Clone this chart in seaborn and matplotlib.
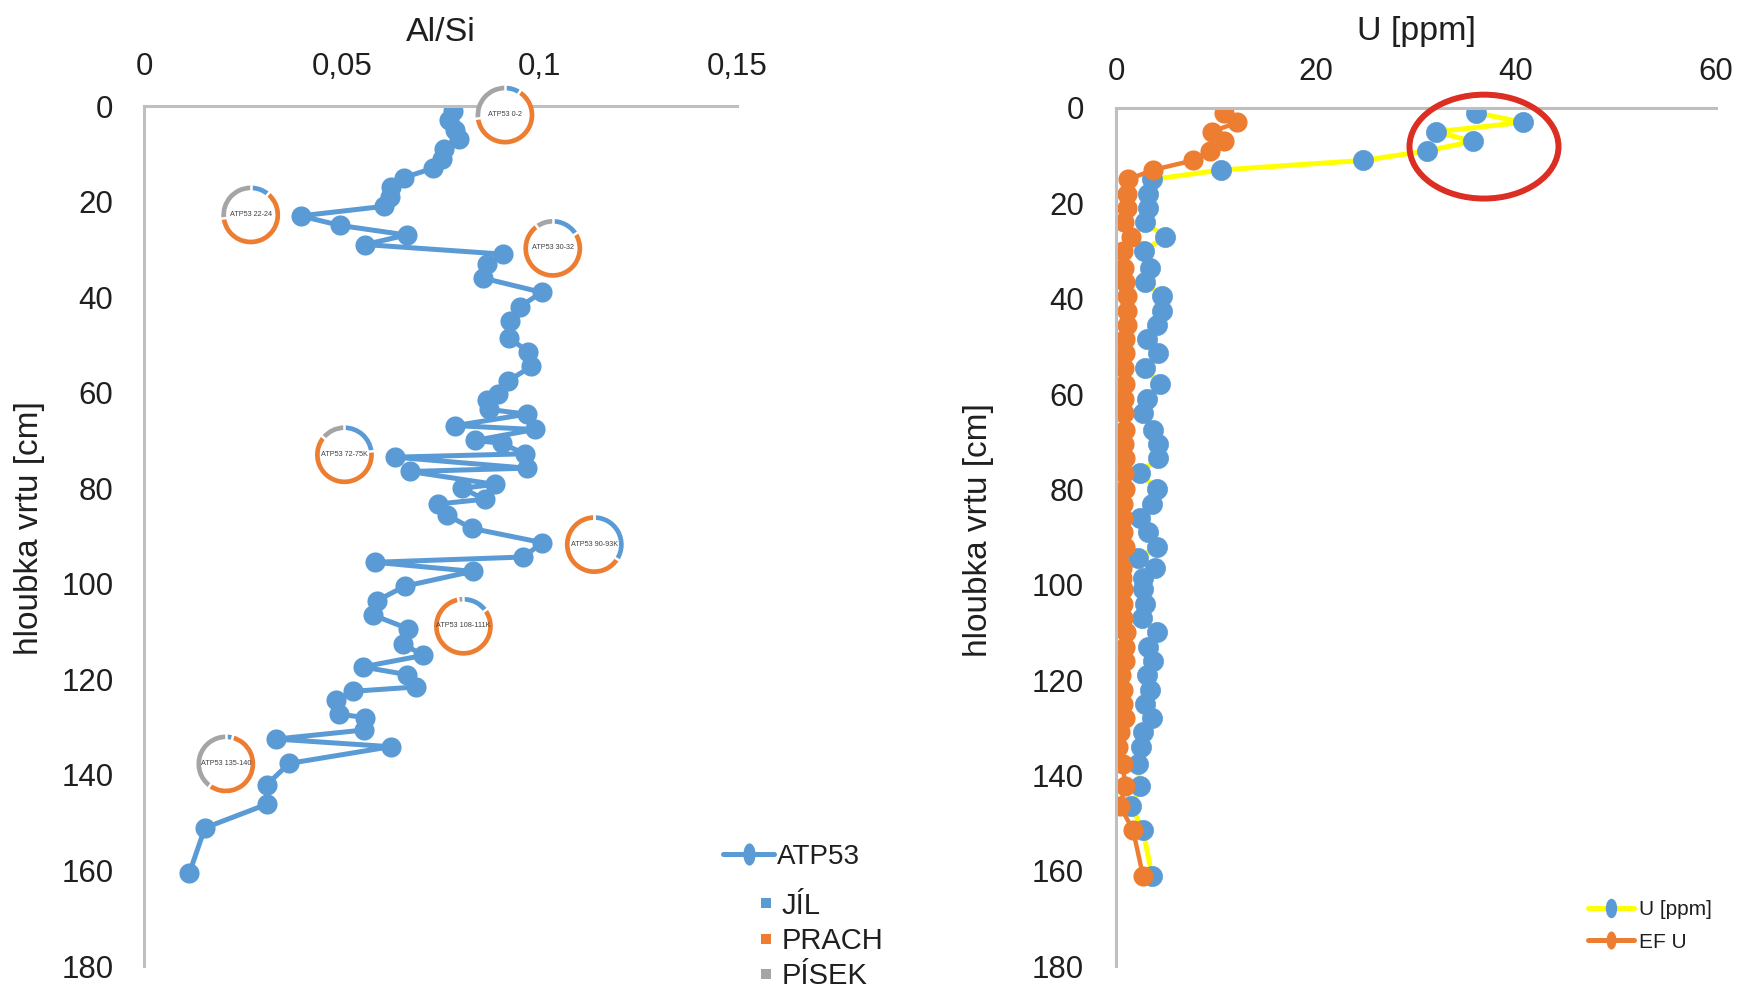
import numpy as np
import matplotlib
matplotlib.use("Agg")
import matplotlib.pyplot as plt
from matplotlib import font_manager
from matplotlib.lines import Line2D
from matplotlib.patches import Ellipse, Circle
from matplotlib.path import Path
from matplotlib.transforms import Affine2D
import pandas as pd
import seaborn as sns

# ---------------- data ----------------
# Al/Si profile of core ATP53 (depth in cm)
left_depth = [1, 3, 5, 7, 9, 11, 13, 15, 17, 19, 21, 23, 25, 27, 29, 31, 33, 36,
              39, 42, 45, 48.5, 51.5, 54.5, 57.5, 60.3, 61.5, 63.5, 64.5, 66.9,
              67.7, 70.0, 70.6, 72.8, 73.5, 75.8, 76.5, 79.2, 80.0, 82.3, 83.3,
              85.6, 88.4, 91.4, 94.4, 95.5, 97.4, 100.5, 103.5, 106.5, 109.4,
              112.5, 115.0, 117.4, 119.0, 121.6, 122.5, 124.3, 127.3, 128.0,
              130.6, 132.5, 134.1, 137.6, 142.1, 146.1, 151.1, 160.5]
al_si = [0.0781, 0.0772, 0.0787, 0.0797, 0.0760, 0.0755, 0.0732, 0.0657, 0.0626,
         0.0622, 0.0607, 0.0396, 0.0496, 0.0664, 0.0559, 0.0907, 0.0867, 0.0857,
         0.1006, 0.0951, 0.0926, 0.0924, 0.0972, 0.0980, 0.0922, 0.0896, 0.0867,
         0.0873, 0.0968, 0.0787, 0.0989, 0.0837, 0.0905, 0.0963, 0.0635, 0.0968,
         0.0673, 0.0888, 0.0804, 0.0862, 0.0744, 0.0766, 0.0829, 0.1008, 0.0959,
         0.0584, 0.0831, 0.0660, 0.0590, 0.0578, 0.0668, 0.0654, 0.0706, 0.0553,
         0.0664, 0.0688, 0.0529, 0.0486, 0.0494, 0.0559, 0.0557, 0.0334, 0.0624,
         0.0367, 0.0310, 0.0312, 0.0154, 0.0115]

# Uranium profile and its enrichment factor
right_depth = [1, 3, 5, 7, 9, 11, 13, 15, 18, 21, 24, 27, 30, 33.5, 36.5, 39.5,
               42.5, 45.5, 48.5, 51.5, 54.5, 58, 61, 64, 67.5, 70.5, 73.5, 76.5,
               80, 83, 86, 89, 92, 94.5, 96.5, 98.5, 101, 104, 107, 110, 113, 116,
               119, 122, 125, 128, 131, 134, 137.7, 142.3, 146.5, 151.4, 161.1]
u_ppm = [36.0, 40.7, 32.0, 35.7, 31.1, 24.7, 10.5, 3.6, 3.2, 3.2, 2.9, 4.9, 2.8,
         3.4, 2.9, 4.6, 4.6, 4.1, 3.1, 4.2, 2.9, 4.4, 3.1, 2.7, 3.7, 4.2, 4.2,
         2.4, 4.1, 3.6, 2.4, 3.2, 4.1, 2.2, 3.9, 2.7, 2.7, 2.9, 2.6, 4.1, 3.2,
         3.7, 3.1, 3.4, 2.9, 3.6, 2.7, 2.5, 2.2, 2.4, 1.5, 2.7, 3.6]
ef_u = [10.8, 12.1, 9.6, 10.8, 9.4, 7.7, 3.7, 1.2, 1.1, 1.1, 0.8, 1.5, 0.7, 0.8,
        0.9, 1.1, 1.1, 1.1, 0.9, 0.9, 0.8, 0.9, 0.8, 0.8, 0.9, 0.8, 0.9, 0.8,
        0.9, 0.7, 0.7, 0.7, 0.9, 0.2, 0.6, 0.6, 0.7, 0.7, 0.7, 1.0, 0.9, 0.9,
        0.5, 0.7, 0.7, 0.9, 0.4, 0.2, 0.7, 0.9, 0.4, 1.7, 2.7]

# Grain-size composition of selected samples (clay / silt / sand)
sample_labels = ["ATP53 0-2", "ATP53 22-24", "ATP53 30-32", "ATP53 72-75K",
                 "ATP53 90-93K", "ATP53 108-111K", "ATP53 135-140"]
sample_pos_x = [0.0913, 0.0270, 0.1034, 0.0507, 0.1139, 0.0808, 0.0207]
sample_pos_depth = [1.9, 22.8, 29.8, 73.0, 91.8, 108.9, 137.7]
jil = [0.09, 0.11, 0.16, 0.23, 0.34, 0.15, 0.04]
prach = [0.64, 0.62, 0.74, 0.63, 0.66, 0.82, 0.56]
pisek = [0.27, 0.27, 0.10, 0.14, 0.00, 0.03, 0.40]

al_si_ticks = [0, 0.05, 0.1, 0.15]
al_si_ticklabels = ["0", "0,05", "0,1", "0,15"]
u_ticks = [0, 20, 40, 60]
depth_ticks = [0, 20, 40, 60, 80, 100, 120, 140, 160, 180]

# ---------------- style ----------------
BLUE = "#5b9bd5"
ORANGE = "#ed7d31"
GRAY = "#a5a5a5"
YELLOW = "#ffff00"
RED = "#dc2e22"
SPINE = "#bfbfbf"
TEXT = "#1f1f1f"

sns.set_style("white")
installed = {f.name for f in font_manager.fontManager.ttflist}
base_font = "Liberation Sans" if "Liberation Sans" in installed else "DejaVu Sans"
narrow_font = "Liberation Sans Narrow" if "Liberation Sans Narrow" in installed else base_font
plt.rcParams["font.family"] = [base_font, "DejaVu Sans"]

# tall oval used as the legend marker
oval = Path.unit_circle().transformed(Affine2D().scale(0.55, 1.0))

W, H = 1762, 996
fig = plt.figure(figsize=(W / 100, H / 100), dpi=100)
fig.patch.set_facecolor("white")


def px_axes(x0, y0, x1, y1):
    return fig.add_axes([x0 / W, 1 - y1 / H, (x1 - x0) / W, (y1 - y0) / H])


def style_axes(ax, xlim, xticks, xticklabels, xlabel, xpad, ypad, labelpad, ylab_x, ylab_y):
    ax.set_xlim(*xlim)
    ax.set_ylim(180, 0)
    ax.xaxis.tick_top()
    ax.xaxis.set_label_position("top")
    ax.set_xticks(xticks)
    ax.set_xticklabels(xticklabels)
    ax.set_yticks(depth_ticks)
    ax.set_yticklabels([str(t) for t in depth_ticks])
    ax.tick_params(axis="x", length=0, labelsize=22.5, pad=xpad, colors=TEXT)
    ax.tick_params(axis="y", length=0, labelsize=22.5, pad=ypad, colors=TEXT)
    for side in ("right", "bottom"):
        ax.spines[side].set_visible(False)
    for side in ("left", "top"):
        ax.spines[side].set_color(SPINE)
        ax.spines[side].set_linewidth(2.2)
    ax.set_xlabel(xlabel, fontsize=24.5, labelpad=labelpad, color=TEXT)
    ax.set_ylabel("hloubka vrtu [cm]", fontsize=24, color=TEXT)
    ax.yaxis.set_label_coords(ylab_x, ylab_y)
    ax.set_facecolor("none")


ax1 = px_axes(144, 106, 737, 966)
ax2 = px_axes(1116, 108, 1716, 966)

# ---------------- left panel: Al/Si ----------------
df_left = pd.DataFrame({"hloubka": left_depth, "Al/Si": al_si})
sns.lineplot(data=df_left, x="Al/Si", y="hloubka", orient="y", estimator=None,
             color=BLUE, linewidth=3.6, marker="o", markersize=14.5,
             markeredgewidth=0, ax=ax1, legend=False)

# ---------------- right panel: U ----------------
df_right = pd.DataFrame({"hloubka": right_depth, "U [ppm]": u_ppm, "EF U": ef_u})
sns.lineplot(data=df_right, x="U [ppm]", y="hloubka", orient="y", estimator=None,
             color=YELLOW, linewidth=3.6, marker="o", markersize=14.5,
             markerfacecolor=BLUE, markeredgecolor=BLUE, markeredgewidth=0.5,
             ax=ax2, legend=False)
sns.lineplot(data=df_right, x="EF U", y="hloubka", orient="y", estimator=None,
             color=ORANGE, linewidth=3.2, marker="o", markersize=14.5,
             markeredgewidth=0, ax=ax2, legend=False)

style_axes(ax1, (0, 0.15), al_si_ticks, al_si_ticklabels, "Al/Si", 17, 22, 8, -0.167, 0.509)
style_axes(ax2, (0, 60), u_ticks, [str(t) for t in u_ticks], "U [ppm]", 15, 23, 12, -0.2025, 0.508)

# highlight of the enriched surface layer
ax2.add_patch(Ellipse((36.8, 8.1), width=14.9, height=21.8, fill=False,
                      edgecolor=RED, linewidth=4.3, clip_on=False, zorder=6))

# grain-size donuts placed at their sample positions
fig.canvas.draw()
r_px = 30
for lab, sx, sd, a, b, c in zip(sample_labels, sample_pos_x, sample_pos_depth,
                                jil, prach, pisek):
    cx, cy = ax1.transData.transform((sx, sd))
    ax_in = fig.add_axes([(cx - r_px) / W, (cy - r_px) / H, 2 * r_px / W, 2 * r_px / H])
    ax_in.add_patch(Circle((0, 0), 0.9, facecolor="white", edgecolor="none", zorder=0))
    ax_in.pie([a, b, c], colors=[BLUE, ORANGE, GRAY], startangle=90,
              counterclock=False, radius=1.0,
              wedgeprops=dict(width=0.16, linewidth=0))
    # thin white gaps between the segments
    cum = np.cumsum([0, a, b])
    for f in cum:
        ang = np.deg2rad(90 - 360 * f / (a + b + c))
        ax_in.plot([0.78 * np.cos(ang), 1.05 * np.cos(ang)],
                   [0.78 * np.sin(ang), 1.05 * np.sin(ang)],
                   color="white", linewidth=1.8, solid_capstyle="butt", zorder=5)
    ax_in.set_xlim(-1.02, 1.02)
    ax_in.set_ylim(-1.02, 1.02)
    ax_in.set_aspect("equal")
    ax_in.axis("off")
    ax_in.text(0, 0.02, lab, ha="center", va="center", fontsize=5.2,
               color="#404040", family=narrow_font)

# ---------------- legends ----------------
h_atp = Line2D([], [], color=BLUE, linewidth=3.6, marker=oval, markersize=16,
               markeredgewidth=0)
fig.legend([h_atp], ["ATP53"], loc="center left",
           bbox_to_anchor=(723 / W, 1 - 857 / H), frameon=False,
           prop={"family": narrow_font, "size": 20},
           handlelength=1.85, handletextpad=0.1, borderpad=0, borderaxespad=0,
           labelcolor=TEXT)

squares = [Line2D([], [], linestyle="none", marker="s", markersize=7,
                  markeredgewidth=0, color=c) for c in (BLUE, ORANGE, GRAY)]
fig.legend(squares, ["JÍL", "PRACH", "PÍSEK"], loc="center left",
           bbox_to_anchor=(757 / W, 1 - 941 / H), frameon=False, fontsize=21,
           handlelength=0.6, handletextpad=0.25, labelspacing=0.25,
           borderpad=0, borderaxespad=0, labelcolor=TEXT)

h_u = Line2D([], [], color=YELLOW, linewidth=3.6, marker=oval, markersize=13,
             markerfacecolor=BLUE, markeredgecolor=BLUE)
h_ef = Line2D([], [], color=ORANGE, linewidth=3.6, marker=oval, markersize=13,
              markeredgewidth=0)
fig.legend([h_u, h_ef], ["U [ppm]", "EF U"], loc="center left",
           bbox_to_anchor=(1588 / W, 1 - 926 / H), frameon=False,
           prop={"family": narrow_font, "size": 15},
           handlelength=2.2, handletextpad=0.25, labelspacing=0.65,
           borderpad=0, borderaxespad=0, labelcolor=TEXT)

fig.savefig("out.png", dpi=100, facecolor="white")
